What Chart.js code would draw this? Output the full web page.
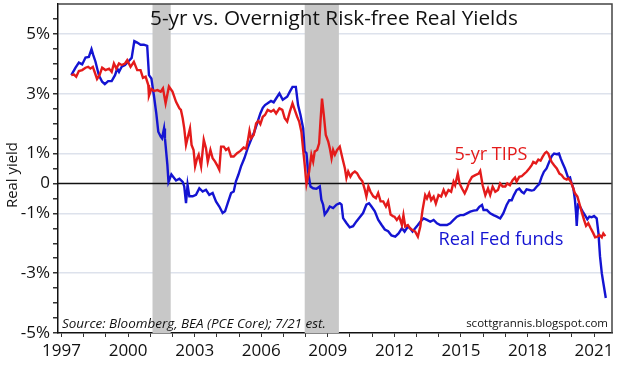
<!DOCTYPE html>
<html><head><meta charset="utf-8">
<script src="https://cdn.jsdelivr.net/npm/chart.js@4"></script>
<style>html,body{margin:0;padding:0;background:#fff}#wrap{width:624px;height:366px}</style>
</head><body><div id="wrap"><canvas id="c" width="624" height="366"></canvas></div>
<script>
const tipsDates = [1997.44,1997.56,1997.66,1997.78,1997.93,1998.08,1998.2,1998.3,1998.41,1998.5,1998.6,1998.71,1998.83,1998.98,1999.14,1999.26,1999.36,1999.47,1999.59,1999.71,1999.86,1999.96,2000.11,2000.26,2000.41,2000.56,2000.67,2000.79,2000.91,2000.94,2001.05,2001.17,2001.32,2001.47,2001.57,2001.69,2001.84,2002.0,2002.16,2002.31,2002.38,2002.46,2002.53,2002.61,2002.68,2002.79,2002.86,2002.95,2003.02,2003.11,2003.18,2003.29,2003.41,2003.51,2003.59,2003.71,2003.81,2003.92,2004.04,2004.11,2004.19,2004.31,2004.41,2004.52,2004.64,2004.76,2004.91,2005.06,2005.21,2005.32,2005.39,2005.47,2005.54,2005.66,2005.77,2005.87,2005.96,2006.07,2006.17,2006.29,2006.44,2006.56,2006.67,2006.82,2006.95,2007.06,2007.17,2007.29,2007.41,2007.51,2007.62,2007.71,2007.81,2007.89,2007.96,2008.04,2008.16,2008.26,2008.34,2008.41,2008.52,2008.61,2008.67,2008.74,2008.82,2008.91,2009.02,2009.09,2009.17,2009.24,2009.32,2009.42,2009.54,2009.66,2009.77,2009.84,2009.92,2010.02,2010.11,2010.22,2010.32,2010.44,2010.56,2010.67,2010.74,2010.83,2010.92,2011.05,2011.17,2011.27,2011.38,2011.5,2011.62,2011.72,2011.83,2011.95,2012.0,2012.11,2012.22,2012.34,2012.41,2012.49,2012.61,2012.71,2012.82,2012.94,2013.06,2013.17,2013.27,2013.39,2013.47,2013.57,2013.66,2013.77,2013.87,2013.99,2014.11,2014.22,2014.32,2014.44,2014.56,2014.67,2014.74,2014.86,2014.94,2015.05,2015.17,2015.27,2015.38,2015.5,2015.65,2015.8,2015.87,2015.98,2016.1,2016.22,2016.32,2016.43,2016.55,2016.67,2016.77,2016.88,2017.0,2017.09,2017.21,2017.33,2017.44,2017.51,2017.63,2017.74,2017.84,2017.96,2018.08,2018.19,2018.26,2018.38,2018.49,2018.59,2018.68,2018.79,2018.86,2018.94,2019.02,2019.09,2019.2,2019.32,2019.44,2019.54,2019.65,2019.77,2019.84,2019.95,2020.04,2020.14,2020.25,2020.34,2020.44,2020.55,2020.64,2020.74,2020.85,2020.97,2021.05,2021.15,2021.24,2021.35,2021.42,2021.51];
const tipsValues = [3.62,3.64,3.57,3.76,3.79,3.87,3.9,3.84,3.9,3.71,3.49,3.62,3.87,3.79,3.84,3.73,4.01,3.84,4.01,3.96,4.01,4.12,3.9,4.07,3.79,3.79,3.53,3.57,3.29,2.93,3.16,3.09,3.12,3.07,3.18,2.68,3.24,3.07,2.73,2.51,2.46,2.18,1.84,1.29,1.51,1.84,1.29,1.12,0.57,0.84,0.96,0.57,1.46,1.18,0.73,1.12,0.84,0.73,0.57,0.46,1.23,1.23,1.12,1.18,0.9,0.9,1.01,1.09,1.2,1.16,1.4,1.76,1.51,1.62,2.01,2.09,1.98,2.23,2.29,2.46,2.4,2.46,2.34,2.51,2.46,2.18,2.07,2.4,2.68,2.46,2.23,2.07,1.73,1.12,0.62,-0.02,0.4,0.96,0.73,1.07,1.12,1.34,2.07,2.84,2.29,1.62,1.4,1.18,0.84,1.12,0.96,1.12,1.23,0.84,0.51,0.18,0.4,0.23,0.34,0.4,0.34,0.18,0.07,-0.21,-0.43,-0.1,-0.27,-0.43,-0.49,-0.32,-0.6,-0.6,-0.77,-0.6,-1.04,-1.1,-1.11,-1.22,-1.11,-1.39,-1.06,-1.44,-1.39,-1.5,-1.56,-1.61,-1.78,-1.44,-0.89,-0.39,-0.5,-0.33,-0.56,-0.44,-0.67,-0.39,-0.44,-0.22,-0.39,-0.22,-0.28,0.06,-0.06,0.33,0.0,-0.17,-0.33,-0.17,0.06,0.22,0.28,0.33,0.42,-0.06,-0.39,-0.17,-0.39,-0.11,-0.28,-0.22,0.0,-0.1,-0.1,0.0,-0.06,0.11,0.2,0.06,0.22,0.24,0.31,0.39,0.5,0.61,0.72,0.67,0.8,0.76,0.89,1.02,1.06,1.0,0.83,0.72,0.61,0.5,0.33,0.28,0.17,0.13,0.17,0.06,-0.11,-0.33,-0.44,-0.67,-0.94,-1.22,-1.42,-1.33,-1.5,-1.67,-1.8,-1.78,-1.72,-1.8,-1.67,-1.76];
const fedDates = [1997.44,1997.63,1997.78,1997.93,1998.08,1998.23,1998.35,1998.43,1998.53,1998.68,1998.83,1998.95,1999.1,1999.26,1999.41,1999.51,1999.59,1999.71,1999.86,2000.0,2000.16,2000.28,2000.41,2000.56,2000.71,2000.86,2000.94,2001.05,2001.17,2001.27,2001.36,2001.47,2001.53,2001.62,2001.66,2001.77,2001.82,2001.95,2002.16,2002.31,2002.46,2002.53,2002.61,2002.68,2002.76,2002.91,2003.06,2003.21,2003.36,2003.51,2003.66,2003.81,2003.96,2004.11,2004.26,2004.37,2004.49,2004.64,2004.76,2004.86,2004.97,2005.09,2005.24,2005.39,2005.54,2005.69,2005.84,2005.96,2006.07,2006.17,2006.29,2006.44,2006.56,2006.67,2006.82,2006.97,2007.17,2007.29,2007.41,2007.56,2007.66,2007.77,2007.89,2007.96,2008.04,2008.11,2008.22,2008.34,2008.49,2008.64,2008.71,2008.79,2008.86,2008.97,2009.09,2009.24,2009.39,2009.54,2009.62,2009.69,2009.84,2009.99,2010.14,2010.29,2010.44,2010.59,2010.74,2010.86,2010.97,2011.12,2011.27,2011.42,2011.57,2011.72,2011.87,2012.04,2012.19,2012.34,2012.46,2012.61,2012.71,2012.82,2012.94,2013.06,2013.17,2013.32,2013.47,2013.62,2013.77,2013.92,2014.07,2014.22,2014.37,2014.52,2014.67,2014.82,2014.97,2015.12,2015.27,2015.42,2015.57,2015.72,2015.83,2015.95,2016.02,2016.17,2016.32,2016.47,2016.62,2016.77,2016.91,2017.06,2017.18,2017.29,2017.39,2017.51,2017.63,2017.74,2017.84,2017.96,2018.08,2018.19,2018.29,2018.41,2018.53,2018.64,2018.74,2018.86,2018.98,2019.09,2019.2,2019.32,2019.42,2019.5,2019.59,2019.69,2019.77,2019.84,2019.92,2019.99,2020.07,2020.14,2020.19,2020.22,2020.28,2020.37,2020.49,2020.59,2020.7,2020.79,2020.89,2021.0,2021.12,2021.2,2021.27,2021.35,2021.42,2021.53];
const fedValues = [3.62,3.87,4.04,3.98,4.21,4.23,4.49,4.29,4.07,3.62,3.4,3.32,3.42,3.42,3.62,3.84,3.73,3.9,3.96,4.07,4.2,4.76,4.71,4.64,4.64,4.6,3.62,3.51,2.9,2.34,1.73,1.57,1.51,1.84,1.51,0.62,0.05,0.3,0.1,0.16,0.05,-0.1,-0.66,-0.04,-0.43,-0.43,-0.38,-0.16,-0.27,-0.21,-0.38,-0.32,-0.6,-0.77,-0.99,-0.93,-0.66,-0.32,-0.27,0.07,0.29,0.57,0.84,1.18,1.46,1.73,2.07,2.34,2.53,2.62,2.68,2.76,2.71,2.84,3.01,2.8,2.9,3.07,3.23,3.23,2.62,2.29,1.84,1.07,1.01,0.4,-0.1,-0.16,-0.18,-0.1,-0.54,-0.71,-1.04,-0.93,-0.77,-0.82,-0.71,-0.66,-0.71,-1.16,-1.32,-1.47,-1.43,-1.27,-1.13,-0.99,-0.71,-0.66,-0.77,-0.93,-1.21,-1.38,-1.54,-1.6,-1.74,-1.78,-1.67,-1.5,-1.61,-1.44,-1.5,-1.61,-1.5,-1.39,-1.28,-1.17,-1.22,-1.28,-1.22,-1.33,-1.39,-1.39,-1.39,-1.33,-1.22,-1.11,-1.06,-1.06,-1.0,-0.94,-0.91,-0.89,-0.78,-0.72,-0.89,-0.89,-1.0,-1.06,-1.11,-1.17,-1.0,-0.72,-0.56,-0.56,-0.39,-0.22,-0.17,-0.28,-0.33,-0.2,-0.22,-0.24,-0.22,-0.11,-0.02,0.22,0.39,0.5,0.72,0.91,1.0,0.98,1.0,0.83,0.67,0.5,0.33,0.17,0.2,0.0,-0.17,-0.56,-1.0,-1.42,-0.72,-0.78,-0.94,-1.06,-1.2,-1.11,-1.13,-1.09,-1.17,-1.67,-2.44,-3.0,-3.33,-3.83];
const recessions = [[2001.1, 2001.92], [2007.96, 2009.5]];
const yearTicks = [1997,1998,1999,2000,2001,2002,2003,2004,2005,2006,2007,2008,2009,2010,2011,2012,2013,2014,2015,2016,2017,2018,2019,2020,2021];
const yearLabels = [1997,2000,2003,2006,2009,2012,2015,2018,2021];
const yTickValues = [-5,-4.5,-4,-3.5,-3,-2.5,-2,-1.5,-1,-0.5,0,0.5,1,1.5,2,2.5,3,3.5,4,4.5,5,5.5];
const yLabelValues = [5,3,1,0,-1,-3,-5];
const yGridValues = [5,3,1,-1,-3];
const titleText = '5-yr vs. Overnight Risk-free Real Yields';
const tipsLabel = '5-yr TIPS';
const fedLabel = 'Real Fed funds';
const sourceText = 'Source: Bloomberg, BEA (PCE Core); 7/21 est.';
const siteText = 'scottgrannis.blogspot.com';
const yTitle = 'Real yield';

const FAM = '"Open Sans", "DejaVu Sans", sans-serif';
const RED = '#e41b1b';
const BLUE = '#1414d2';

function fitSize(ctx, text, width, style) {
  ctx.font = style + ' 20px ' + FAM;
  return 20 * width / ctx.measureText(text).width;
}
function drawFit(ctx, text, cx, cy, width, color, style, align) {
  const s = fitSize(ctx, text, width, style);
  ctx.font = style + ' ' + s.toFixed(2) + 'px ' + FAM;
  ctx.fillStyle = color;
  ctx.textAlign = align || 'center';
  ctx.textBaseline = 'middle';
  ctx.fillText(text, cx, cy);
}

const decor = {
  id: 'decor',
  beforeDatasetsDraw(chart) {
    const {ctx, chartArea: a, scales: {x, y}} = chart;
    ctx.save();
    ctx.fillStyle = '#c8c8c8';
    recessions.forEach(([s, e]) => {
      const x0 = x.getPixelForValue(s), x1 = x.getPixelForValue(e);
      ctx.fillRect(x0, a.top, x1 - x0, a.bottom - a.top);
    });
    const y0 = y.getPixelForValue(0);
    ctx.strokeStyle = '#111';
    ctx.lineWidth = 1.5;
    ctx.beginPath(); ctx.moveTo(a.left, y0); ctx.lineTo(a.right, y0); ctx.stroke();
    ctx.restore();
  },
  afterDraw(chart) {
    const {ctx, chartArea: a} = chart;
    ctx.save();
    ctx.strokeStyle = '#444';
    ctx.lineWidth = 1.5;
    ctx.beginPath();
    ctx.moveTo(a.left, a.top); ctx.lineTo(a.right, a.top); ctx.lineTo(a.right, a.bottom);
    ctx.stroke();
    drawFit(ctx, titleText, 334, 19, 368, '#111', 'normal');
    drawFit(ctx, tipsLabel, 491, 155, 73, RED, 'normal');
    drawFit(ctx, fedLabel, 501, 240, 125, BLUE, 'normal');
    drawFit(ctx, sourceText, 62, 324, 264, '#111', 'italic', 'left');
    drawFit(ctx, siteText, 608, 324, 142, '#111', 'normal', 'right');
    ctx.translate(13, 175);
    ctx.rotate(-Math.PI / 2);
    drawFit(ctx, yTitle, 0, 0, 66, '#111', 'normal');
    ctx.restore();
  }
};

new Chart(document.getElementById('c'), {
  type: 'line',
  data: {
    datasets: [
      {label: tipsLabel, data: tipsDates.map((d, i) => ({x: d, y: tipsValues[i]})), borderColor: RED, borderWidth: 2.4, pointRadius: 0, tension: 0, fill: false},
      {label: fedLabel, data: fedDates.map((d, i) => ({x: d, y: fedValues[i]})), borderColor: BLUE, borderWidth: 2.4, pointRadius: 0, tension: 0, fill: false}
    ]
  },
  options: {
    responsive: false,
    animation: false,
    events: [],
    layout: {padding: {left: 0, right: 12, top: 4, bottom: 0}},
    plugins: {legend: {display: false}, tooltip: {enabled: false}, title: {display: false}},
    scales: {
      x: {
        type: 'linear', min: 1996.84, max: 2021.81,
        afterBuildTicks: s => { s.ticks = yearTicks.map(v => ({value: v})); },
        afterFit: s => { s.height = 33; s.paddingLeft = 0; s.paddingRight = 0; },
        grid: {drawOnChartArea: false, drawTicks: true, tickLength: 4, tickColor: '#333'},
        border: {color: '#111', width: 1.5},
        ticks: {autoSkip: false, maxRotation: 0, padding: 4, color: '#111', font: {family: FAM, size: 17},
          callback: v => yearLabels.includes(v) ? String(v) : ''}
      },
      y: {
        min: -5, max: 6,
        afterBuildTicks: s => { s.ticks = yTickValues.map(v => ({value: v})); },
        afterFit: s => { s.width = 58; s.paddingTop = 0; s.paddingBottom = 0; },
        grid: {
          color: c => (c.tick && yGridValues.includes(c.tick.value)) ? '#dde2ec' : 'rgba(0,0,0,0)',
          lineWidth: 1.5, tickLength: 5, tickColor: '#333', drawTicks: true
        },
        border: {color: '#111', width: 1.5},
        ticks: {autoSkip: false, padding: 3, color: '#111', font: {family: FAM, size: 17},
          callback: v => yLabelValues.includes(v) ? (v === 0 ? '0' : v + '%') : ''}
      }
    }
  },
  plugins: [decor]
});
</script>
</body></html>
